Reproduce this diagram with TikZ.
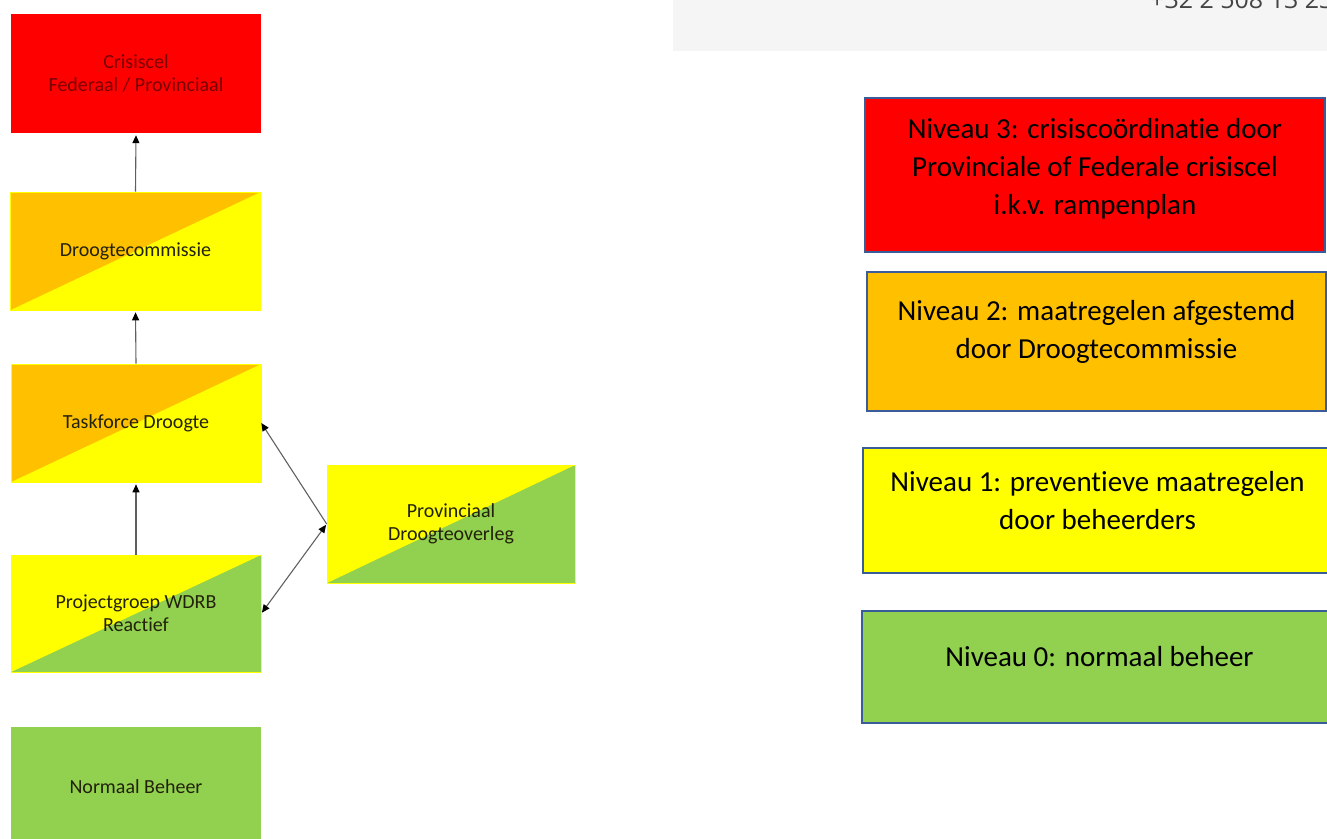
\documentclass[tikz,border=0pt]{standalone}
\usepackage{fontspec}
\setmainfont{Carlito}[Ligatures={NoCommon}]
\newfontfamily\phonefont{Open Sans}
\usetikzlibrary{arrows.meta}
\definecolor{cred}{HTML}{FF0000}
\definecolor{corange}{HTML}{FFC000}
\definecolor{cyellow}{HTML}{FFFF00}
\definecolor{cgreen}{HTML}{92D050}
\definecolor{cblue}{HTML}{3B5C9A}
\definecolor{cpanel}{HTML}{F5F5F5}
\definecolor{cline}{HTML}{606060}
\definecolor{tdark}{HTML}{22220A}
\definecolor{tred}{HTML}{780000}
\definecolor{tphone}{HTML}{444444}
\begin{document}
\begin{tikzpicture}[x=1pt,y=-1pt,
  lbox/.style={rectangle, minimum width=250pt, minimum height=119pt, inner sep=0pt,
    align=center, font=\fontsize{20}{23}\selectfont, text=tdark},
  split/.style 2 args={fill=#2, draw=cyellow, line width=0.6pt,
    path picture={\fill[#1] (path picture bounding box.south west) -- (path picture bounding box.north west) -- (path picture bounding box.north east) -- cycle;}},
  lvl/.style={rectangle, draw=cblue, line width=2.2pt, inner sep=0pt},
  lvltext/.style={align=center, inner sep=0pt, font=\fontsize{29}{38}\selectfont, text=black},
  arr/.style={draw=cline, line width=1.1pt, -{Triangle[length=8pt,width=7pt,color=black]}, shorten >=2pt},
  arrboth/.style={draw=cline, line width=1.1pt, {Triangle[length=8pt,width=7pt,color=black]}-{Triangle[length=8pt,width=7pt,color=black]}, shorten >=1pt, shorten <=1pt}
]
\useasboundingbox (0,0) rectangle (1327,838);
\clip (0,0) rectangle (1327,838);

% top grey panel with phone number (cut off at the top, as in the source)
\fill[cpanel] (673,-2) rectangle (1330,51);
\node[anchor=base west, inner sep=0pt, text=tphone, font=\phonefont\fontsize{25}{30}\selectfont] (phone) at (1150,8) {+32 2 508 13 23};

% left column
\node[lbox, fill=cred, text=tred] (cr) at (136,73.5) {Crisiscel\\Federaal / Provinciaal};
\node[lbox, split={corange}{cyellow}, minimum height=118pt] (dc) at (135.5,251) {Droogtecommissie};
\node[lbox, split={corange}{cyellow}, minimum height=118pt] (tf) at (136,423) {Taskforce Droogte};
\node[lbox, split={cyellow}{cgreen}, minimum height=117pt] (pg) at (136,613.5) {Projectgroep WDRB\\Reactief};
\node[lbox, split={cyellow}{cgreen}, minimum width=248pt, minimum height=118pt] (pd) at (451,524) {Provinciaal\\Droogteoverleg};
\node[lbox, fill=cgreen, text=tdark] (nb) at (136,786.5) {Normaal Beheer};

% connectors
\draw[arr] (dc.north) -- (cr.south);
\draw[arr] (tf.north) -- (dc.south);
\draw[arr] (pg.north) -- (tf.south);
\draw[arr, shorten >=0pt] (pd.west) -- (tf.east);
\draw[arrboth] (pg.east) -- (pd.west);

% right legend
\node[lvl, fill=cred, minimum width=460pt, minimum height=154pt] (n3) at (1095,175) {};
\node[lvltext] (t3) at ([yshift=6pt]n3.center) {Niveau 3: crisiscoördinatie door\\Provinciale of Federale crisiscel\\i.k.v. rampenplan};
\node[lvl, fill=corange, minimum width=459pt, minimum height=139pt] (n2) at (1096.5,341.5) {};
\node[lvltext] (t2) at ([yshift=10pt]n2.center) {Niveau 2: maatregelen afgestemd\\door Droogtecommissie};
\node[lvl, fill=cyellow, minimum width=469pt, minimum height=125pt] (n1) at (1097.5,510.5) {};
\node[lvltext] (t1) at ([yshift=10pt]n1.center) {Niveau 1: preventieve maatregelen\\door beheerders};
\node[lvl, fill=cgreen, minimum width=475pt, minimum height=112pt] (n0) at (1099.5,667) {};
\node[lvltext] (t0) at ([yshift=10pt]n0.center) {Niveau 0: normaal beheer};
\end{tikzpicture}
\end{document}
